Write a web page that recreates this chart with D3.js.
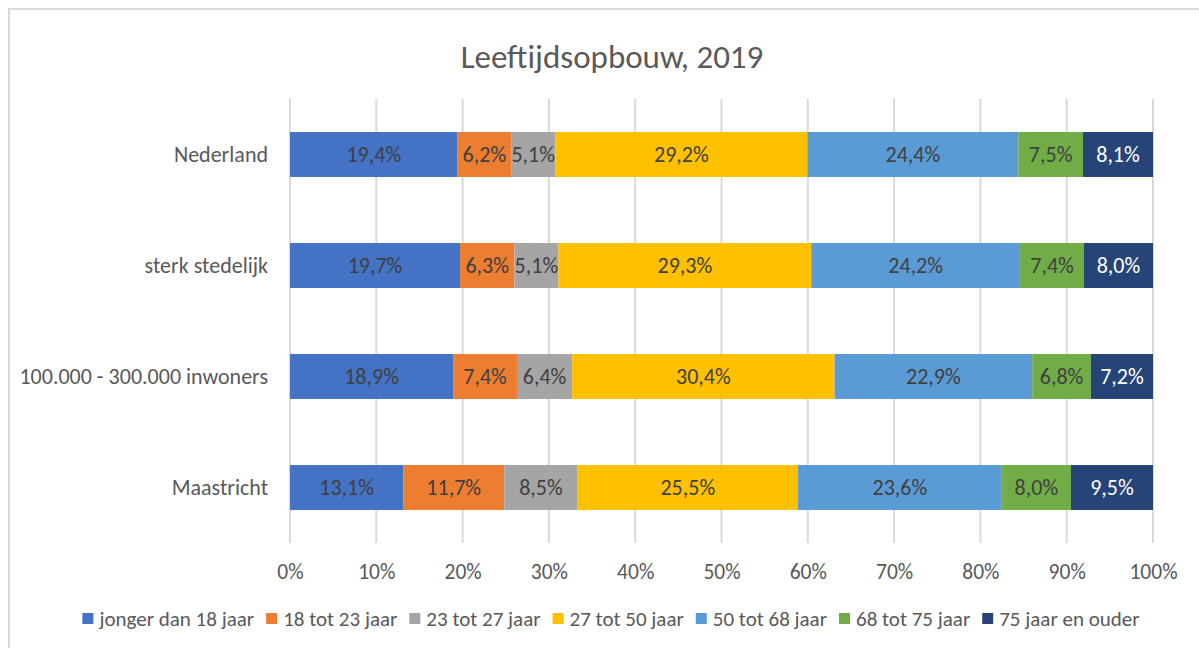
<!DOCTYPE html>
<html><head><meta charset="utf-8">
<script src="https://cdn.jsdelivr.net/npm/d3@7"></script>
<style>
body{margin:0;background:#fff;}
text{font-family:Carlito,'Liberation Sans Narrow','Liberation Sans',sans-serif;}
</style></head>
<body><svg id="c" width="1199" height="648"></svg>
<script>
const categories = ["Nederland","sterk stedelijk","100.000 - 300.000 inwoners","Maastricht"];
const seriesNames = ["jonger dan 18 jaar","18 tot 23 jaar","23 tot 27 jaar","27 tot 50 jaar","50 tot 68 jaar","68 tot 75 jaar","75 jaar en ouder"];
const jonger18 = [19.4,19.7,18.9,13.1];
const t18_23 = [6.2,6.3,7.4,11.7];
const t23_27 = [5.1,5.1,6.4,8.5];
const t27_50 = [29.2,29.3,30.4,25.5];
const t50_68 = [24.4,24.2,22.9,23.6];
const t68_75 = [7.5,7.4,6.8,8.0];
const ouder75 = [8.1,8.0,7.2,9.5];
const xTicks = [0,0.1,0.2,0.3,0.4,0.5,0.6,0.7,0.8,0.9,1.0];
const colors = ["#4472C4","#ED7D31","#A5A5A5","#FFC000","#5B9BD5","#70AD47","#264478"];
const labelColors = ["#404040","#404040","#404040","#404040","#404040","#404040","#ffffff"];

const seriesVals = [jonger18,t18_23,t23_27,t27_50,t50_68,t68_75,ouder75];
const rows = categories.map((c,i)=>{const o={cat:c}; seriesNames.forEach((s,j)=>o[s]=seriesVals[j][i]); return o;});
const stack = d3.stack().keys(seriesNames).offset(d3.stackOffsetExpand);
const stacked = stack(rows);

const svg = d3.select("#c");
svg.append("rect").attr("x",9).attr("y",9).attr("width",1250).attr("height",700)
  .attr("fill","#fff").attr("stroke","#d9d9d9").attr("stroke-width",2);

const x = d3.scaleLinear().domain([0,1]).range([290,1153]);
const y = d3.scaleBand().domain(categories).range([99,543]).paddingInner(0.595).paddingOuter(0.2975);

svg.append("text").attr("x",612).attr("y",68).attr("text-anchor","middle")
  .attr("fill","#595959").style("font-size","33px").text("Leeftijdsopbouw, 2019");

// grid
svg.append("g").selectAll("line").data(xTicks).join("line")
  .attr("x1",d=>x(d)).attr("x2",d=>x(d)).attr("y1",99).attr("y2",543)
  .attr("stroke","#d9d9d9").attr("stroke-width",2);

// x axis labels
const xa = svg.append("g").attr("transform","translate(0,543)")
  .call(d3.axisBottom(x).tickValues(xTicks).tickFormat(d3.format(".0%")).tickSize(0).tickPadding(21));
xa.select(".domain").remove();
xa.selectAll("text").attr("fill","#595959").style("font-size","21.5px");

// y axis labels
const ya = svg.append("g").attr("transform","translate(290,0)")
  .call(d3.axisLeft(y).tickSize(0).tickPadding(22));
ya.select(".domain").remove();
ya.selectAll("text").attr("fill","#595959").style("font-size","22px");

const fmt = v => d3.format(".1f")(v).replace(".",",")+"%";
const g = svg.append("g");
stacked.forEach((s,j)=>{
  const sg = g.append("g");
  sg.selectAll("rect").data(s).join("rect")
    .attr("x",d=>x(d[0])).attr("width",d=>x(d[1])-x(d[0]))
    .attr("y",d=>y(d.data.cat)).attr("height",y.bandwidth()).attr("fill",colors[j]);
  sg.selectAll("text").data(s).join("text")
    .attr("x",d=>(x(d[0])+x(d[1]))/2).attr("y",d=>y(d.data.cat)+y.bandwidth()/2)
    .attr("dy","0.35em").attr("text-anchor","middle").attr("fill",labelColors[j])
    .style("font-size","22px").text(d=>fmt(d.data[s.key]));
});

// legend
const lg = svg.append("g");
let cx = 0;
seriesNames.forEach((n,j)=>{
  const it = lg.append("g");
  it.append("rect").attr("x",0).attr("y",-6).attr("width",11).attr("height",11).attr("fill",colors[j]);
  const t = it.append("text").attr("x",17).attr("y",0).attr("dy","0.35em").attr("fill","#595959")
    .style("font-size","21px").text(n);
  const w = 17 + t.node().getComputedTextLength();
  it.attr("transform",`translate(${cx},619)`);
  cx += w + 12;
});
const total = cx - 12;
lg.attr("transform",`translate(${611 - total/2},0)`);
</script></body></html>
